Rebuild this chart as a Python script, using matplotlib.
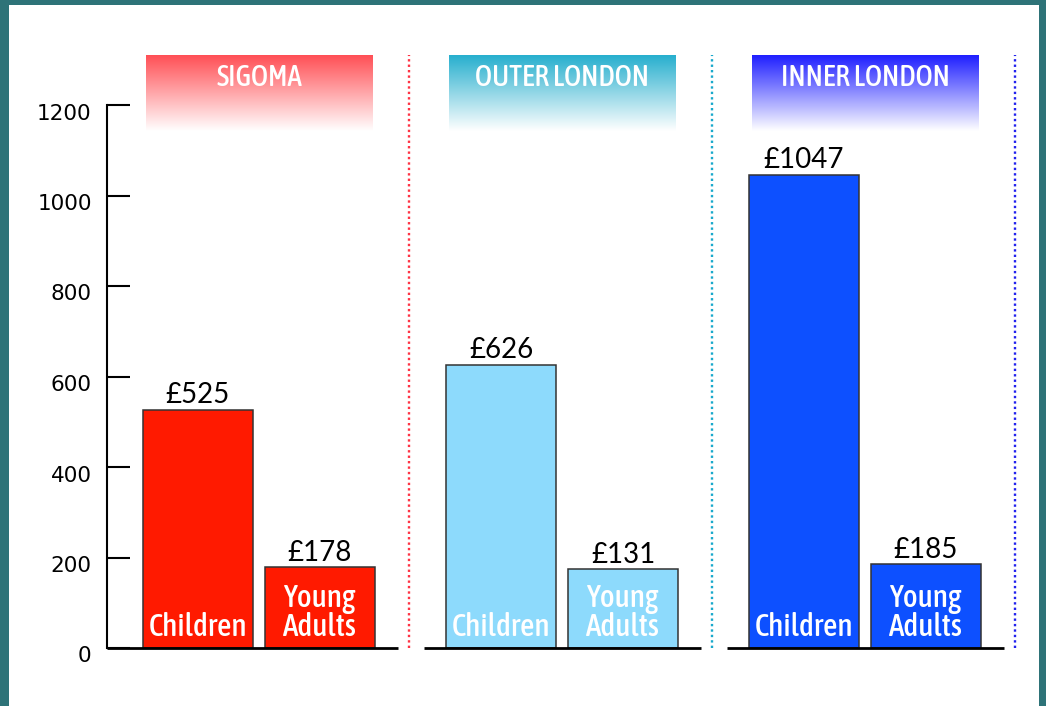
import numpy as np
import matplotlib.pyplot as plt
import matplotlib.transforms as mtransforms
from matplotlib.patches import Rectangle
from matplotlib.colors import to_rgb

# data
regions = ['SIGOMA', 'OUTER LONDON', 'INNER LONDON']
bar_names = ['Children', 'Young\nAdults']
children = [525, 626, 1045]
young_adults = [178, 175, 186]
children_labels = ['£525', '£626', '£1047']
young_labels = ['£178', '£131', '£185']
yticks = [0, 200, 400, 600, 800, 1000, 1200]

bar_colors = ['#ff1a00', '#8ddafc', '#0d50ff']
head_colors = ['#ff4f55', '#27afce', '#1f1fff']
sep_colors = ['#ff3344', '#19a9cc', '#2222ee']

narrow = ['Asap Condensed', 'Liberation Sans Narrow', 'DejaVu Sans']

W, H = 1046, 706
fig = plt.figure(figsize=(W / 100, H / 100), dpi=100, facecolor='#2e7378')
fig.patches.append(Rectangle((9 / W, 0), 1030 / W, 701 / H, transform=fig.transFigure,
                             facecolor='white', edgecolor='none', zorder=-10))

ax = fig.add_axes([107 / W, (H - 648) / H, 913 / W, 543 / H])
ax.set_facecolor('none')

group_gap = 303
bar_w = 110
off = 61
centers = 152 + group_gap * np.arange(len(regions))

ax.bar(centers - off, children, width=bar_w, color=bar_colors, edgecolor='#333333', linewidth=1.1, zorder=3)
ax.bar(centers + off, young_adults, width=bar_w, color=bar_colors, edgecolor='#333333', linewidth=1.1, zorder=3)

for i, c in enumerate(centers):
    # value labels
    ax.annotate(children_labels[i], (c - off, children[i]), xytext=(0, 5), textcoords='offset points',
                ha='center', va='baseline', fontsize=20, family='Lato', color='black')
    ax.annotate(young_labels[i], (c + off, young_adults[i]), xytext=(0, 4.5), textcoords='offset points',
                ha='center', va='baseline', fontsize=20, family='Lato', color='black')
    # names inside bars
    ax.text(c - off, 11, bar_names[0], ha='center', va='bottom', color='white', fontsize=22.5,
            fontweight=500, family=narrow, zorder=4)
    ax.text(c + off, 11, bar_names[1], ha='center', va='bottom', color='white', fontsize=22.5,
            fontweight=500, family=narrow, linespacing=0.93, zorder=4)

    # header box with fade to white
    t = np.linspace(0, 1, 256)[:, None, None]
    top = np.array(to_rgb(head_colors[i]))[None, None, :]
    grad = top * (1 - t) + t
    ax.imshow(grad, extent=[c - 113.5, c + 113.5, 1142, 1308], aspect='auto', origin='upper',
              clip_on=False, zorder=2)
    ax.text(c, 1242, regions[i], ha='center', va='baseline', color='white', fontsize=21,
            fontweight=500, family=narrow, zorder=4)

    # dotted separator
    ax.plot([c + 150, c + 150], [0, 1310], color=sep_colors[i], ls=(0, (1, 1.3)), lw=1.7,
            clip_on=False, zorder=2)

    # baseline piece
    x0 = 0 if i == 0 else c - 138
    ax.plot([x0, c + 139], [0, 0], color='black', lw=2, clip_on=False, zorder=5, solid_capstyle='butt')

ax.set_xlim(0, 913)
ax.set_ylim(0, 1200)
ax.set_xticks([])
ax.set_yticks(yticks)
ax.tick_params(axis='y', direction='in', length=16.5, width=1.5, pad=11, labelsize=15.5, colors='black')
for lab in ax.get_yticklabels():
    lab.set_transform(lab.get_transform() + mtransforms.ScaledTranslation(0, -6.5 / 100, fig.dpi_scale_trans))
for s in ['top', 'right', 'bottom']:
    ax.spines[s].set_visible(False)
ax.spines['left'].set_linewidth(1.5)

fig.savefig('out.png', dpi=100, facecolor=fig.get_facecolor())
